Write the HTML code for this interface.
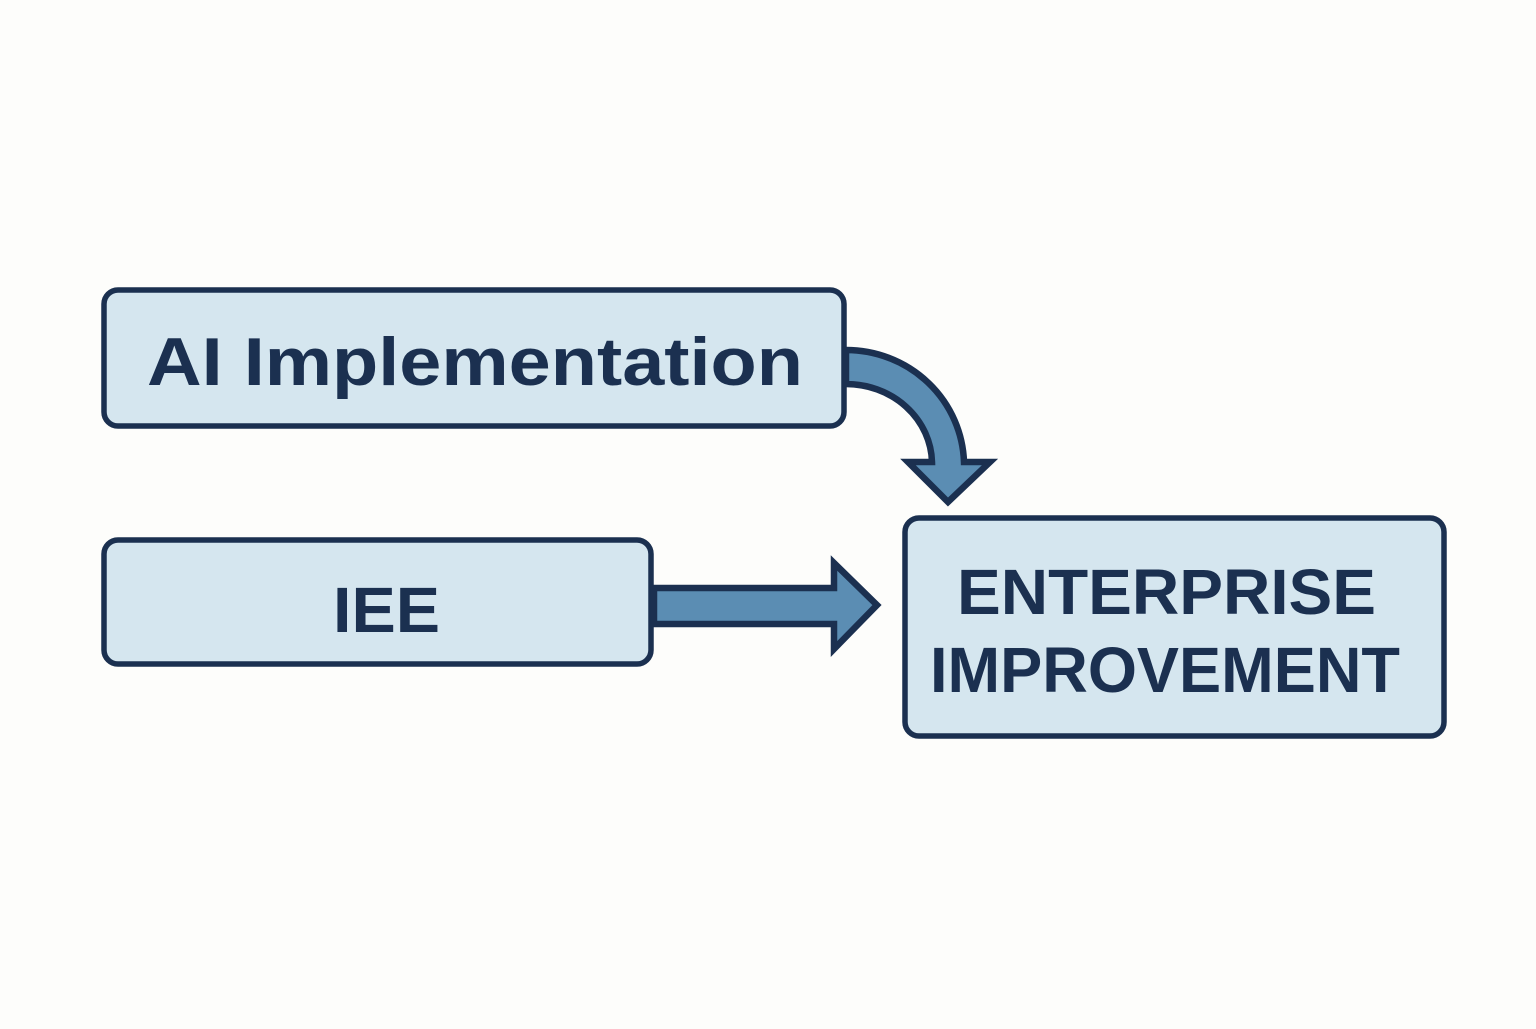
<!DOCTYPE html>
<html><head><style>body{margin:0;background:#fdfdfb}</style></head><body>
<svg width="1536" height="1024" viewBox="0 0 1536 1024" xmlns="http://www.w3.org/2000/svg">
<rect width="1536" height="1024" fill="#fdfdfb"/>
<g fill="#d5e6ef" stroke="#1b3050" stroke-width="5.5">
<rect x="104" y="290" width="740" height="136" rx="14"/>
<rect x="104" y="540" width="547" height="124" rx="14"/>
<rect x="905" y="518" width="539" height="218" rx="14"/>
</g>
<g fill="#5b8db3" stroke="#1b3050" stroke-width="6.5" stroke-linejoin="miter">
<path d="M846 350 A118 116 0 0 1 964 462 L990 462 L948 502 L908 462 L932 462 A86 80 0 0 0 846 384 Z"/>
<path d="M654 588 L834 588 L834 563 L877 605 L834 649 L834 624 L654 624 Z"/>
</g>
<g fill="#1b3050" font-family="Liberation Sans, sans-serif" font-weight="bold" lengthAdjust="spacingAndGlyphs">
<text x="147" y="385" font-size="68" textLength="656" lengthAdjust="spacingAndGlyphs">AI Implementation</text>
<text x="333" y="632" font-size="64" textLength="107" lengthAdjust="spacingAndGlyphs">IEE</text>
<text x="957" y="614" font-size="64" textLength="419" lengthAdjust="spacingAndGlyphs">ENTERPRISE</text>
<text x="930" y="692" font-size="64" textLength="470" lengthAdjust="spacingAndGlyphs">IMPROVEMENT</text>
</g>
</svg>
</body></html>
